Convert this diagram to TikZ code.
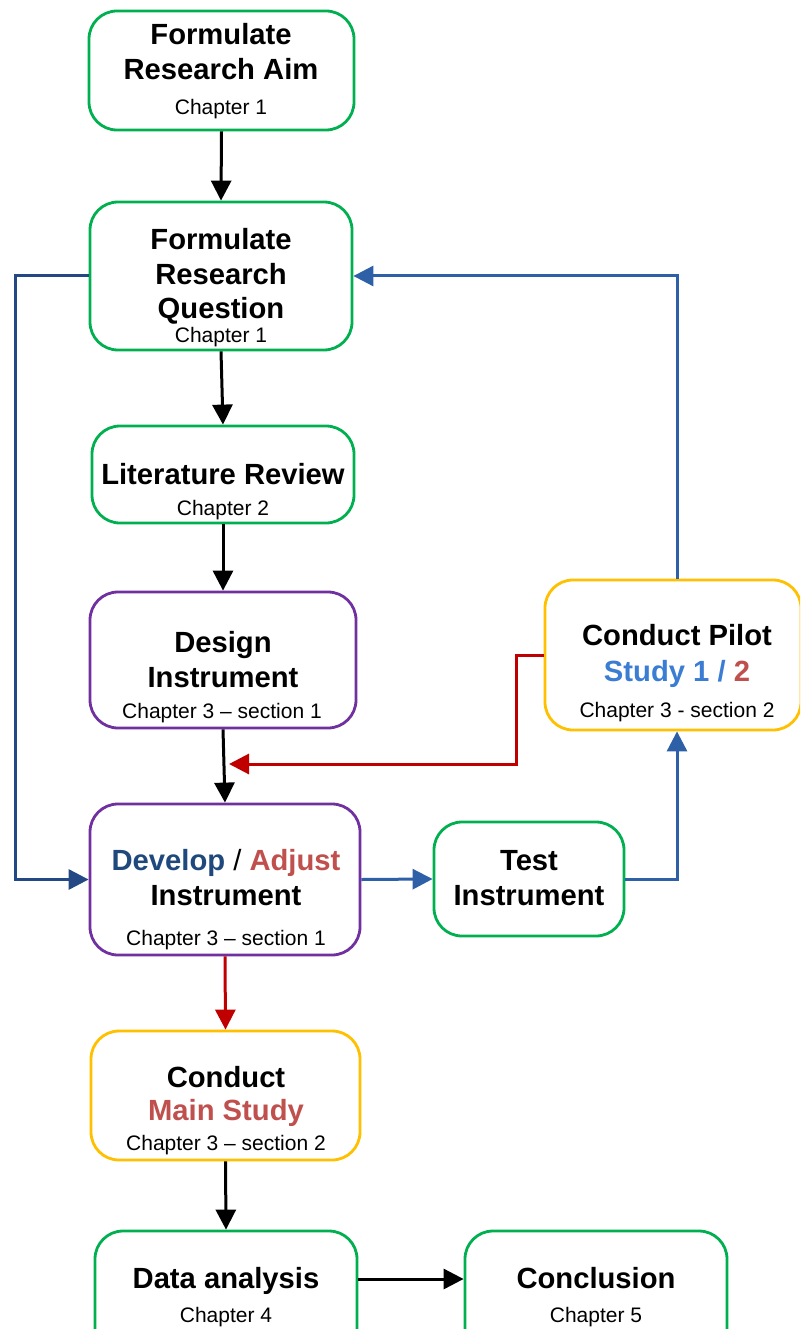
\documentclass[tikz,border=0pt]{standalone}
\usepackage{fontspec}
\setmainfont{Liberation Sans}
\usetikzlibrary{arrows.meta,calc}

\definecolor{cgreen}{RGB}{0,176,80}
\definecolor{cpurple}{RGB}{112,48,160}
\definecolor{cyellow}{RGB}{255,192,0}
\definecolor{cnavy}{RGB}{36,72,132}
\definecolor{cblue}{RGB}{46,96,168}
\definecolor{cred}{RGB}{192,0,0}
\definecolor{tdblue}{RGB}{31,73,125}
\definecolor{tred}{RGB}{192,80,77}
\definecolor{tlblue}{RGB}{58,125,210}

\begin{document}
\begin{tikzpicture}[x=1pt,y=-1pt,
  box/.style={draw, line width=2.8pt, rounded corners=28pt, fill=white, inner sep=0pt},
  gbox/.style={box, draw=cgreen},
  pbox/.style={box, draw=cpurple},
  ybox/.style={box, draw=cyellow},
  ttl/.style={font=\fontsize{29.2}{34}\selectfont\bfseries, inner sep=0pt, anchor=base},
  sub/.style={font=\fontsize{21}{25}\selectfont, inner sep=0pt, anchor=base},
  arr/.style={line width=3pt, -{Triangle[length=20pt,width=20pt]}},
]
\clip (0,0) rectangle (800,1329);
\fill[white] (0,0) rectangle (800,1329);

% boxes
\node[gbox, minimum width=265, minimum height=119] (aim) at (221.5,70.5) {};
\node[gbox, minimum width=262, minimum height=148] (question) at (221,276) {};
\node[gbox, minimum width=262, minimum height=97] (lit) at (223,474.5) {};
\node[pbox, minimum width=266, minimum height=136] (design) at (223,660) {};
\node[pbox, minimum width=270, minimum height=151] (develop) at (225,879.5) {};
\node[gbox, minimum width=190, minimum height=114] (test) at (529,879) {};
\node[ybox, minimum width=256, minimum height=150] (pilot) at (673,655) {};
\node[ybox, minimum width=269, minimum height=129] (main) at (225.5,1095.5) {};
\node[gbox, minimum width=262, minimum height=128] (data) at (226,1295) {};
\node[gbox, minimum width=262, minimum height=128] (conc) at (596,1295) {};

% texts
\node[ttl] (aimA) at (221,45) {Formulate};
\node[ttl] (aimB) at (221,80) {Research Aim};
\node[sub] (aimC) at (221,115) {Chapter 1};

\node[ttl] (qA) at (221,250) {Formulate};
\node[ttl] (qB) at (221,285) {Research};
\node[ttl] (qC) at (221,318) {Question};
\node[sub] (qD) at (221,342) {Chapter 1};

\node[ttl] (litA) at (223,484) {Literature Review};
\node[sub] (litB) at (223,515) {Chapter 2};

\node[ttl] (desA) at (223,652) {Design};
\node[ttl] (desB) at (223,687) {Instrument};
\node[sub] (desC) at (222,718) {Chapter 3 – section 1};

\node[ttl] (devA) at (226,870) {\textcolor{tdblue}{Develop} {\mdseries/} \textcolor{tred}{Adjust}};
\node[ttl] (devB) at (226,905) {Instrument};
\node[sub] (devC) at (226,945) {Chapter 3 – section 1};

\node[ttl] (testA) at (529,870) {Test};
\node[ttl] (testB) at (529,905) {Instrument};

\node[ttl] (pilA) at (677,645) {Conduct Pilot};
\node[ttl] (pilB) at (677,681) {\textcolor{tlblue}{Study 1 /} \textcolor{tred}{2}};
\node[sub] (pilC) at (677,717) {Chapter 3 - section 2};

\node[ttl] (mainA) at (226,1087) {Conduct};
\node[ttl, text=tred] (mainB) at (226,1120) {Main Study};
\node[sub] (mainC) at (226,1150) {Chapter 3 – section 2};

\node[ttl] (dataA) at (226,1288) {Data analysis};
\node[sub] (dataB) at (226,1322) {Chapter 4};

\node[ttl] (concA) at (596,1288) {Conclusion};
\node[sub] (concB) at (596,1322) {Chapter 5};

% main flow
\draw[arr] (aim.south) -- (question.north);
\draw[arr] (question.south) -- (lit.north);
\draw[arr] (lit.south) -- (design.north);
\draw[arr] (design.south) -- (develop.north);
\draw[arr, cred] (develop.south) -- (main.north);
\draw[arr] (main.south) -- (data.north);
\draw[arr] ([yshift=16pt]data.east) -- ([yshift=16pt]conc.west);

% loops
\coordinate (lx) at (15,0);
\coordinate (redtip) at (229,764);
\coordinate (redx) at (516,0);
\draw[arr, cnavy] (question.west) -- (question.west -| lx) |- (develop.west);
\draw[arr, cblue] (develop.east) -- (test.west);
\draw[arr, cblue] (test.east) -| ([xshift=4pt]pilot.south);
\draw[arr, cblue] ([xshift=4pt]pilot.north) |- (question.east);
\draw[arr, cred] (pilot.west) -- (pilot.west -| redx) |- (redtip);
\end{tikzpicture}
\end{document}
